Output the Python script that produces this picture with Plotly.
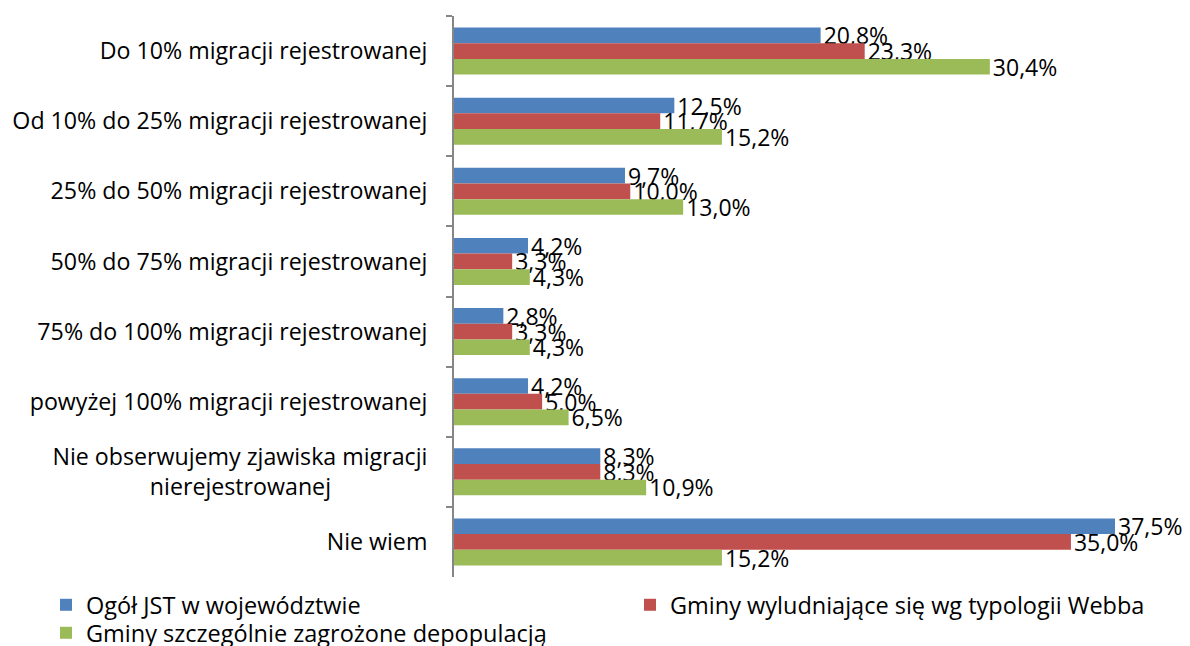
import plotly.graph_objects as go

NB = "\u00a0"
categories = [
    "Do 10% migracji rejestrowanej",
    "Od 10% do 25% migracji rejestrowanej",
    "25% do 50% migracji rejestrowanej",
    "50% do 75% migracji rejestrowanej",
    "75% do 100% migracji rejestrowanej",
    "powyżej 100% migracji rejestrowanej",
    "Nie obserwujemy zjawiska migracji<br>nierejestrowanej" + NB * 16,
    "Nie wiem",
]
series_names = [
    "Ogół JST w województwie",
    "Gminy wyludniające się wg typologii Webba",
    "Gminy szczególnie zagrożone depopulacją",
]
ogol = [20.8, 12.5, 9.7, 4.2, 2.8, 4.2, 8.3, 37.5]
webb = [23.3, 11.7, 10.0, 3.3, 3.3, 5.0, 8.3, 35.0]
depop = [30.4, 15.2, 13.0, 4.3, 4.3, 6.5, 10.9, 15.2]
colors = ["#4F81BD", "#C0504D", "#9BBB59"]
legend_ids = ["legend", "legend2", "legend3"]

FONT = "Open Sans"
W, H = 1182, 638  # page body has an 8px margin; the visible window is 1190x646
ML, MR, MT, MB = 446, 75, 8, 69
PW = W - ML - MR

fig = go.Figure()
for name, vals, col, lg in zip(series_names, [ogol, webb, depop], colors, legend_ids):
    fig.add_trace(go.Bar(
        y=categories, x=vals, orientation="h", name=name, legend=lg,
        marker=dict(color=col, line=dict(width=0)),
        texttemplate="%{x:.1f}%", textposition="outside",
        textfont=dict(family=FONT, size=23, color="black"),
        constraintext="none", cliponaxis=False,
    ))

def legend_box(x_px, top_px):
    return dict(
        orientation="v", xref="paper", yref="container",
        x=(x_px - ML) / PW, y=1 - top_px / H, xanchor="left", yanchor="top",
        font=dict(family=FONT, size=23.5, color="black"),
        itemwidth=30, bgcolor="rgba(0,0,0,0)",
    )

fig.update_layout(
    width=W, height=H,
    margin=dict(l=ML, r=MR, t=MT, b=MB),
    paper_bgcolor="white", plot_bgcolor="white",
    separators=", ",
    barmode="group", bargap=0.33, bargroupgap=0,
    font=dict(family=FONT, size=23.2, color="black"),
    showlegend=True,
    legend=legend_box(38, 575),
    legend2=legend_box(622, 575),
    legend3=legend_box(38, 603),
    xaxis=dict(range=[0, 37.5], visible=False, showgrid=False),
    yaxis=dict(
        autorange="reversed", showline=True, linecolor="#868686", linewidth=2,
        ticks="outside", tickson="boundaries", ticklen=6, tickcolor="#868686", tickwidth=2,
        showgrid=False, tickfont=dict(family=FONT, size=23.2, color="black"),
        ticklabelstandoff=20, automargin=False,
    ),
)
fig.write_html("out.html")
